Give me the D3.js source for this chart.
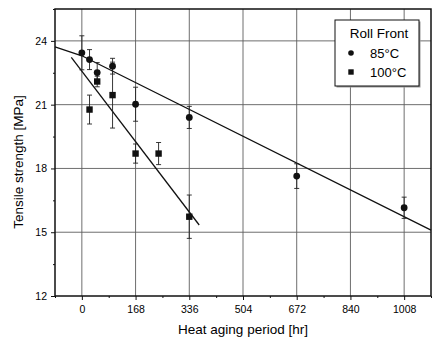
<!DOCTYPE html>
<html>
<head>
<meta charset="utf-8">
<script src="https://cdn.jsdelivr.net/npm/d3@7"></script>
<style>
  body { margin: 0; background: #fff; }
  svg text { font-family: "Liberation Sans", Arial, sans-serif; fill: #000; }
</style>
</head>
<body>
<svg id="chart" width="435" height="343"></svg>
<script>
// Values
const hours85 = [0, 24, 48, 96, 168, 336, 672, 1008];
const strength85 = [23.44, 23.12, 22.51, 22.81, 21.02, 20.4, 17.64, 16.15];
const err85 = [0.8, 0.47, 0.47, 0.37, 0.8, 0.52, 0.58, 0.5];

const hours100 = [24, 48, 96, 168, 240, 336];
const strength100 = [20.77, 22.09, 21.45, 18.7, 18.7, 15.73];
const err100 = [0.68, 0.25, 1.55, 0.45, 0.52, 1.02];

// fitted trend lines (endpoints as drawn)
const fitHours85 = [-84, 0, 1092];
const fitStrength85 = [23.72, 23.3, 15.1];
const fitHours100 = [-33, 367];
const fitStrength100 = [23.22, 15.34];

const xTicks = [0, 168, 336, 504, 672, 840, 1008];
const xMinorTicks = [-84, 84, 252, 420, 588, 756, 924, 1092];
const yTicks = [12, 15, 18, 21, 24];
const yMinorTicks = [13.5, 16.5, 19.5, 22.5, 25.5];

const legendTitle = "Roll Front";
const legendLabels = ["85°C", "100°C"];

const svg = d3.select("#chart");
const plot = { left: 55, right: 431, top: 9, bottom: 296 };

const x = d3.scaleLinear().domain([-84, 1092]).range([plot.left, plot.right]);
const y = d3.scaleLinear().domain([12, 25.5]).range([plot.bottom, plot.top]);

// Grid lines
const grid = svg.append("g").attr("stroke", "#5e5e5e").attr("stroke-width", 0.9);
grid.selectAll("line.vx")
    .data(xTicks)
    .enter().append("line")
    .attr("x1", d => x(d)).attr("x2", d => x(d))
    .attr("y1", plot.top).attr("y2", plot.bottom);
grid.selectAll("line.hy")
    .data(yTicks.filter(d => d > 12))
    .enter().append("line")
    .attr("x1", plot.left).attr("x2", plot.right)
    .attr("y1", d => y(d)).attr("y2", d => y(d));

// Axes
const xAxis = d3.axisBottom(x).tickValues(xTicks).tickFormat(d3.format("d"))
    .tickSize(4).tickSizeOuter(0).tickPadding(6);
const xAxisMinor = d3.axisBottom(x).tickValues(xMinorTicks).tickSize(2).tickFormat("");
const yAxis = d3.axisLeft(y).tickValues(yTicks).tickSize(4).tickSizeOuter(0).tickPadding(4);
const yAxisMinor = d3.axisLeft(y).tickValues(yMinorTicks).tickSize(2).tickFormat("");

function styleAxis(g) {
    g.select(".domain").remove();
    g.selectAll("line").attr("stroke", "#111").attr("stroke-width", 1);
    g.selectAll("text").attr("font-size", "10.5px")
        .attr("font-family", "'Liberation Sans', Arial, sans-serif").attr("fill", "#000");
}

svg.append("g").attr("transform", `translate(0,${plot.bottom})`).call(xAxis).call(styleAxis);
svg.append("g").attr("transform", `translate(0,${plot.bottom})`).call(xAxisMinor).call(styleAxis);
svg.append("g").attr("transform", `translate(${plot.left},0)`).call(yAxis).call(styleAxis);
svg.append("g").attr("transform", `translate(${plot.left},0)`).call(yAxisMinor).call(styleAxis);

// Frame
svg.append("rect")
    .attr("x", plot.left).attr("y", plot.top)
    .attr("width", plot.right - plot.left).attr("height", plot.bottom - plot.top)
    .attr("fill", "none").attr("stroke", "#111").attr("stroke-width", 1.5);

// Fit lines
const line = d3.line().x(d => x(d[0])).y(d => y(d[1]));
svg.append("path")
    .datum(d3.zip(fitHours85, fitStrength85))
    .attr("d", line).attr("fill", "none").attr("stroke", "#111").attr("stroke-width", 1.3);
svg.append("path")
    .datum(d3.zip(fitHours100, fitStrength100))
    .attr("d", line).attr("fill", "none").attr("stroke", "#111").attr("stroke-width", 1.3);

// Error bars
function drawErrors(hours, values, errs) {
    const g = svg.append("g").attr("stroke", "#222").attr("stroke-width", 0.9);
    const rows = d3.zip(hours, values, errs);
    g.selectAll("line.v").data(rows).enter().append("line")
        .attr("x1", d => x(d[0])).attr("x2", d => x(d[0]))
        .attr("y1", d => y(d[1] - d[2])).attr("y2", d => y(d[1] + d[2]));
    g.selectAll("line.t").data(rows).enter().append("line")
        .attr("x1", d => x(d[0]) - 2.5).attr("x2", d => x(d[0]) + 2.5)
        .attr("y1", d => y(d[1] + d[2])).attr("y2", d => y(d[1] + d[2]));
    g.selectAll("line.b").data(rows).enter().append("line")
        .attr("x1", d => x(d[0]) - 2.5).attr("x2", d => x(d[0]) + 2.5)
        .attr("y1", d => y(d[1] - d[2])).attr("y2", d => y(d[1] - d[2]));
}
drawErrors(hours85, strength85, err85);
drawErrors(hours100, strength100, err100);

// Markers
svg.append("g").selectAll("circle")
    .data(d3.zip(hours85, strength85))
    .enter().append("circle")
    .attr("cx", d => x(d[0])).attr("cy", d => y(d[1]))
    .attr("r", 3.4).attr("fill", "#111");

svg.append("g").selectAll("rect")
    .data(d3.zip(hours100, strength100))
    .enter().append("rect")
    .attr("x", d => x(d[0]) - 3.2).attr("y", d => y(d[1]) - 3.2)
    .attr("width", 6.4).attr("height", 6.4).attr("fill", "#111");

// Legend
const legend = svg.append("g").attr("transform", "translate(335,20)");
legend.append("rect").attr("x", 1.5).attr("y", 1.5).attr("width", 84).attr("height", 66)
    .attr("fill", "#999");
legend.append("rect").attr("width", 84).attr("height", 66)
    .attr("fill", "#fff").attr("stroke", "#111").attr("stroke-width", 1);
legend.append("text").attr("x", 44).attr("y", 18).attr("text-anchor", "middle")
    .attr("font-size", "13.5px").text(legendTitle);
legend.append("circle").attr("cx", 16).attr("cy", 33).attr("r", 2.8).attr("fill", "#111");
legend.append("rect").attr("x", 13.3).attr("y", 49.3).attr("width", 5.4).attr("height", 5.4).attr("fill", "#111");
legend.selectAll("text.lab")
    .data(legendLabels)
    .enter().append("text")
    .attr("x", 35).attr("y", (d, i) => 37.5 + i * 19)
    .attr("font-size", "13px").text(d => d);

// Axis titles
svg.append("text")
    .attr("x", 243).attr("y", 334).attr("text-anchor", "middle")
    .attr("font-size", "13.5px").text("Heat aging period [hr]");
svg.append("text")
    .attr("transform", "translate(23,162) rotate(-90)").attr("text-anchor", "middle")
    .attr("font-size", "13.5px").text("Tensile strength [MPa]");
</script>
</body>
</html>
